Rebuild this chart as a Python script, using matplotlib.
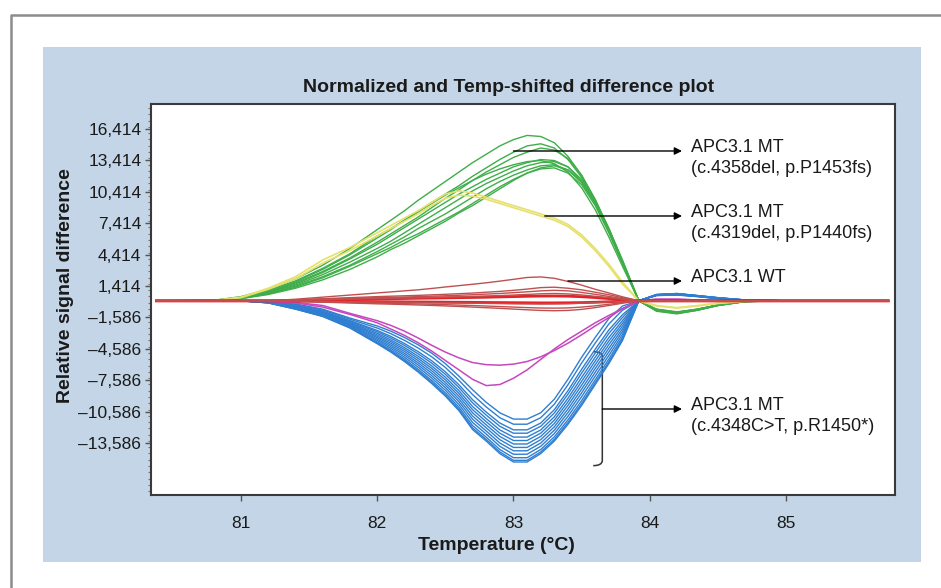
import matplotlib
matplotlib.use("Agg")
import matplotlib.pyplot as plt
from matplotlib.lines import Line2D
from matplotlib.patches import Rectangle, PathPatch
from matplotlib.path import Path
from matplotlib.ticker import MultipleLocator

plt.rcParams["font.family"] = ["Liberation Sans", "DejaVu Sans"]

# temperature grid (°C) shared by all traces
temp = [80.38, 80.8, 81.0, 81.2, 81.4, 81.6, 81.8, 82.0, 82.1, 82.2, 82.3, 82.4, 82.5, 82.6, 82.7, 82.8, 82.9,
        83.0, 83.1, 83.2, 83.3, 83.4, 83.5, 83.6, 83.7, 83.8, 83.92, 84.05, 84.2, 84.35, 84.5, 84.7, 85.0, 85.4, 85.75]

# APC3.1 MT c.4358del (green)
green = [
    [0, 50, 400, 1100, 2100, 3400, 5000, 6800, 7700, 8600, 9600, 10500, 11400, 12300, 13200, 14000, 14800, 15400, 15800, 15700, 15100, 13800, 12000, 9600, 6800, 3800, 0, -900, -1200, -900, -450, -80, 0, 0, 0],
    [0, 40, 350, 1000, 1900, 3100, 4500, 6200, 6900, 7700, 8500, 9400, 10200, 11000, 11900, 12700, 13500, 14200, 14800, 15000, 14600, 13500, 11800, 9400, 6600, 3600, 0, -800, -1100, -850, -400, -60, 0, 0, 0],
    [0, 30, 300, 850, 1700, 2800, 4100, 5600, 6400, 7200, 8000, 8900, 9800, 10600, 11500, 12300, 13000, 13700, 14200, 14600, 14400, 13600, 12000, 9700, 6900, 3700, 0, -900, -1150, -850, -420, -70, 0, 0, 0],
    [0, 30, 300, 800, 1600, 2700, 4000, 5400, 6200, 7000, 7800, 8600, 9400, 10200, 10900, 11600, 12200, 12800, 13200, 13500, 13400, 12800, 11400, 9300, 6600, 3600, 0, -850, -1100, -800, -400, -60, 0, 0, 0],
    [0, 30, 280, 750, 1500, 2500, 3700, 5000, 5700, 6500, 7300, 8100, 8900, 9700, 10500, 11200, 11800, 12400, 12900, 13200, 13300, 12800, 11600, 9600, 6900, 3800, 0, -950, -1200, -900, -450, -70, 0, 0, 0],
    [0, 20, 250, 700, 1400, 2300, 3400, 4700, 5400, 6100, 6900, 7600, 8300, 9100, 9900, 10700, 11400, 12000, 12500, 12900, 13000, 12500, 11300, 9300, 6700, 3700, 0, -900, -1150, -850, -420, -60, 0, 0, 0],
    [0, 20, 230, 650, 1300, 2200, 3300, 4500, 5100, 5800, 6400, 7100, 7800, 8500, 9300, 10100, 10900, 11600, 12200, 12600, 12700, 12200, 11100, 9100, 6500, 3600, 0, -800, -1050, -800, -400, -60, 0, 0, 0],
    [0, 20, 200, 600, 1200, 2000, 3000, 4200, 4900, 5500, 6200, 6900, 7600, 8400, 9100, 9900, 10700, 11500, 12200, 12700, 12900, 12500, 11400, 9500, 6900, 3900, 0, -1000, -1250, -900, -450, -70, 0, 0, 0],
    [0, 30, 320, 900, 1800, 3000, 4400, 6000, 6800, 7700, 8500, 9300, 10100, 10800, 11500, 12100, 12600, 13000, 13300, 13400, 13100, 12300, 10800, 8700, 6100, 3300, 0, -850, -1100, -800, -400, -60, 0, 0, 0],
]

# APC3.1 MT c.4319del (yellow)
yellow = [
    [0, 40, 350, 1200, 2300, 3900, 5100, 6500, 7200, 7900, 8600, 9400, 10200, 10500, 10300, 9900, 9500, 9100, 8700, 8300, 7900, 7300, 6300, 5000, 3500, 1800, 0, -500, -700, -500, -250, -40, 0, 0, 0],
    [0, 30, 300, 1100, 2100, 3600, 4800, 6200, 6900, 7600, 8300, 9100, 9800, 10100, 10000, 9700, 9300, 8900, 8500, 8100, 7700, 7100, 6100, 4800, 3300, 1600, 0, -450, -650, -450, -220, -30, 0, 0, 0],
]

# APC3.1 WT (dark red / bright red)
wt_dark = [
    [0, 0, 0, 0, 150, 350, 550, 750, 850, 950, 1050, 1180, 1320, 1450, 1580, 1720, 1880, 2050, 2230, 2280, 2150, 1850, 1500, 1100, 750, 380, 0, 0, 0, 0, 0, 0, 0, 0, 0],
    [0, 0, 0, 0, 80, 200, 300, 400, 440, 480, 520, 570, 620, 680, 740, 820, 900, 1000, 1120, 1260, 1300, 1200, 1050, 820, 580, 300, 0, 0, 0, 0, 0, 0, 0, 0, 0],
    [0, 0, 0, 0, 60, 150, 230, 300, 330, 360, 400, 440, 480, 530, 580, 640, 700, 780, 860, 950, 1000, 950, 800, 620, 420, 210, 0, 0, 0, 0, 0, 0, 0, 0, 0],
    [0, 0, 0, 0, 40, 100, 160, 210, 230, 260, 290, 320, 350, 380, 420, 460, 500, 550, 610, 670, 700, 660, 560, 430, 300, 150, 0, 0, 0, 0, 0, 0, 0, 0, 0],
    [0, 0, 0, 0, -20, -50, -80, -110, -120, -140, -160, -180, -200, -210, -230, -250, -270, -290, -300, -310, -300, -280, -230, -170, -110, -60, 0, 0, 0, 0, 0, 0, 0, 0, 0],
    [0, 0, 0, 0, -40, -100, -160, -220, -240, -270, -300, -330, -370, -410, -450, -500, -550, -600, -650, -690, -700, -680, -600, -480, -330, -170, 0, 0, 0, 0, 0, 0, 0, 0, 0],
    [0, 0, 0, 0, -50, -130, -210, -290, -320, -360, -400, -440, -490, -540, -600, -660, -720, -790, -860, -920, -950, -920, -820, -650, -450, -230, 0, 0, 0, 0, 0, 0, 0, 0, 0],
]
wt_red = [
    [0, 0, 0, 0, 30, 80, 130, 180, 200, 220, 240, 260, 280, 300, 320, 340, 370, 400, 430, 450, 460, 440, 390, 310, 210, 100, 0, 0, 0, 0, 0, 0, 0, 0, 0],
    [0, 0, 0, 0, -20, -40, -60, -80, -90, -100, -110, -120, -130, -140, -150, -160, -170, -180, -190, -200, -200, -190, -170, -140, -90, -40, 0, 0, 0, 0, 0, 0, 0, 0, 0],
]

# magenta traces
magenta = [
    [0, 0, 0, -30, -150, -450, -1200, -1900, -2350, -2900, -3550, -4250, -4900, -5450, -5900, -6100, -6150, -6050, -5800, -5350, -4750, -4050, -3250, -2400, -1600, -750, 0, 150, 150, 80, 0, 0, 0, 0, 0],
    [0, 0, 0, -40, -200, -600, -1300, -2100, -2700, -3300, -4000, -4800, -5700, -6600, -7500, -8100, -8000, -7400, -6600, -5600, -4600, -3700, -2900, -2100, -1400, -750, 0, 150, 150, 80, 0, 0, 0, 0, 0],
]

# APC3.1 MT c.4348C>T (blue)
blue = [
    [0, 0, 0, -100, -300, -800, -1650, -2400, -2900, -3500, -4200, -5000, -6000, -7200, -8500, -9700, -10700, -11300, -11300, -10700, -9400, -7500, -5400, -3500, -1700, -500, 0, 500, 550, 400, 200, 50, 0, 0, 0],
    [0, 0, 0, -110, -360, -880, -1760, -2600, -3140, -3780, -4510, -5350, -6370, -7600, -8960, -10140, -11170, -11790, -11790, -11170, -9880, -8020, -5950, -4040, -2220, -900, 0, 510, 570, 410, 210, 50, 0, 0, 0],
    [0, 0, 0, -130, -430, -980, -1890, -2830, -3400, -4080, -4850, -5730, -6780, -8030, -9450, -10630, -11680, -12330, -12330, -11680, -10400, -8580, -6550, -4630, -2780, -1330, 0, 530, 590, 430, 230, 60, 0, 0, 0],
    [0, 0, 0, -130, -470, -1030, -1960, -2960, -3560, -4260, -5060, -5960, -7020, -8290, -9750, -10920, -11990, -12650, -12650, -11990, -10720, -8920, -6920, -4990, -3120, -1590, 0, 530, 600, 430, 230, 60, 0, 0, 0],
    [0, 0, 0, -140, -510, -1090, -2050, -3110, -3740, -4470, -5290, -6220, -7300, -8590, -10100, -11250, -12340, -13020, -13020, -12340, -11080, -9310, -7330, -5390, -3510, -1890, 0, 540, 610, 440, 240, 60, 0, 0, 0],
    [0, 0, 0, -150, -550, -1150, -2130, -3250, -3900, -4650, -5500, -6450, -7550, -8850, -10400, -11550, -12650, -13350, -13350, -12650, -11400, -9650, -7700, -5750, -3850, -2150, 0, 550, 620, 450, 250, 60, 0, 0, 0],
    [0, 0, 0, -160, -590, -1210, -2200, -3390, -4060, -4830, -5710, -6680, -7800, -9110, -10700, -11850, -12960, -13680, -13680, -12960, -11720, -9990, -8070, -6110, -4190, -2410, 0, 560, 640, 460, 260, 70, 0, 0, 0],
    [0, 0, 0, -170, -630, -1260, -2280, -3520, -4220, -5020, -5920, -6910, -8050, -9380, -11010, -12140, -13270, -14010, -14010, -13270, -12040, -10340, -8440, -6470, -4540, -2680, 0, 570, 650, 470, 270, 70, 0, 0, 0],
    [0, 0, 0, -170, -670, -1320, -2350, -3660, -4380, -5200, -6120, -7150, -8290, -9640, -11310, -12440, -13590, -14330, -14330, -13590, -12360, -10680, -8800, -6830, -4880, -2940, 0, 570, 660, 470, 270, 70, 0, 0, 0],
    [0, 0, 0, -180, -710, -1370, -2430, -3790, -4540, -5390, -6330, -7380, -8540, -9910, -11620, -12730, -13900, -14660, -14660, -13900, -12680, -11030, -9170, -7190, -5230, -3210, 0, 580, 670, 480, 280, 75, 0, 0, 0],
    [0, 0, 0, -190, -750, -1430, -2510, -3930, -4700, -5570, -6540, -7610, -8790, -10170, -11920, -13030, -14210, -14990, -14990, -14210, -13000, -11370, -9540, -7550, -5570, -3470, 0, 590, 690, 490, 290, 80, 0, 0, 0],
    [0, 0, 0, -200, -780, -1470, -2560, -4030, -4820, -5710, -6700, -7780, -8980, -10370, -12150, -13250, -14440, -15240, -15240, -14440, -13240, -11630, -9820, -7820, -5830, -3670, 0, 600, 690, 500, 300, 80, 0, 0, 0],
    [0, 0, 0, -200, -800, -1500, -2600, -4100, -4900, -5800, -6800, -7900, -9100, -10500, -12300, -13400, -14600, -15400, -15400, -14600, -13400, -11800, -10000, -8000, -6000, -3800, 0, 600, 700, 500, 300, 80, 0, 0, 0],
]

xticks = [81, 82, 83, 84, 85]
yticks = [16414, 13414, 10414, 7414, 4414, 1414, -1586, -4586, -7586, -10586, -13586]
ytick_labels = ["16,414", "13,414", "10,414", "7,414", "4,414", "1,414",
                "\u20131,586", "\u20134,586", "\u20137,586", "\u201310,586", "\u201313,586"]

labels = ["APC3.1 MT\n(c.4358del, p.P1453fs)", "APC3.1 MT\n(c.4319del, p.P1440fs)",
          "APC3.1 WT", "APC3.1 MT\n(c.4348C>T, p.R1450*)"]
label_y = [14313, 8103, 1892, -10337]
line_start = [83.00, 83.23, 83.40, 83.652]

W, H = 941, 588
fig = plt.figure(figsize=(W / 100, H / 100), dpi=100)
fig.patch.set_facecolor("white")

# light blue panel + grey frame
fig.add_artist(Rectangle((43 / W, 1 - 562 / H), (921 - 43) / W, (562 - 47) / H,
                         transform=fig.transFigure, facecolor="#c3d5e6", edgecolor="none", zorder=-5))
fig.add_artist(Line2D([11 / W, 11 / W, 1], [0, 1 - 15 / H, 1 - 15 / H], transform=fig.transFigure,
                      color="#8c8c8c", lw=1.8, zorder=-4))

ax = fig.add_axes([151 / W, 1 - 495 / H, 744 / W, 391 / H])
ax.set_facecolor("white")

for c in blue:
    ax.plot(temp, c, color="#2f7ed0", lw=1.0)
for c in magenta:
    ax.plot(temp, c, color="#c548c0", lw=1.1)
for c in green:
    ax.plot(temp, c, color="#3fae4a", lw=1.0)
for c in yellow:
    ax.plot(temp, c, color="#e6e16e", lw=1.2)
for c in wt_red:
    ax.plot(temp, c, color="#e52228", lw=2.0)
for c in wt_dark:
    ax.plot(temp, c, color="#c0504f", lw=1.0)

ax.set_xlim(80.34, 85.80)
ax.set_ylim(-18554, 18803)
ax.set_xticks(xticks)
ax.set_yticks(yticks)
ax.set_yticklabels(ytick_labels)
ax.yaxis.set_minor_locator(MultipleLocator(600, offset=414))
ax.tick_params(axis="both", direction="out", length=4, width=1, color="#555555",
               labelcolor="#1a1a1a", labelsize=12.5)
ax.tick_params(axis="y", which="minor", length=2, width=0.8, color="#777777")
ax.tick_params(axis="x", pad=11)
ax.tick_params(axis="y", pad=3)
for s in ax.spines.values():
    s.set_color("#3a3a3a")
    s.set_linewidth(1.5)

# annotation arrows and labels
for lab, y, x0 in zip(labels, label_y, line_start):
    ax.annotate("", xy=(84.237, y), xytext=(x0, y),
                arrowprops=dict(arrowstyle="-|>", color="black", lw=1, mutation_scale=11,
                                shrinkA=0, shrinkB=0))
    ax.annotate(lab, xy=(84.30, y), xytext=(0, 8.5), textcoords="offset points",
                ha="left", va="top", fontsize=13, color="#1a1a1a", linespacing=1.3)

# bracket around the blue group
xb, xh, ytop, ybot = 83.652, 83.585, -4861, -15750
brace = Path([(xh, ytop), (xb, ytop), (xb, ytop - 500), (xb, ybot + 500), (xb, ybot), (xh, ybot)],
             [Path.MOVETO, Path.CURVE3, Path.CURVE3, Path.LINETO, Path.CURVE3, Path.CURVE3])
ax.add_patch(PathPatch(brace, facecolor="none", edgecolor="#333333", lw=1.1))

fig.text(509 / W, 1 - 87 / H, "Normalized and Temp-shifted difference plot", ha="center", va="center",
         fontsize=14, fontweight="bold", color="#1a1a1a")
fig.text(65 / W, 1 - 286 / H, "Relative signal difference", ha="center", va="center", rotation=90,
         fontsize=14, fontweight="bold", color="#1a1a1a")
fig.text(496 / W, 1 - 545 / H, "Temperature (\u00b0C)", ha="center", va="center",
         fontsize=14, fontweight="bold", color="#1a1a1a")

fig.savefig("out.png", dpi=100, facecolor="white")
